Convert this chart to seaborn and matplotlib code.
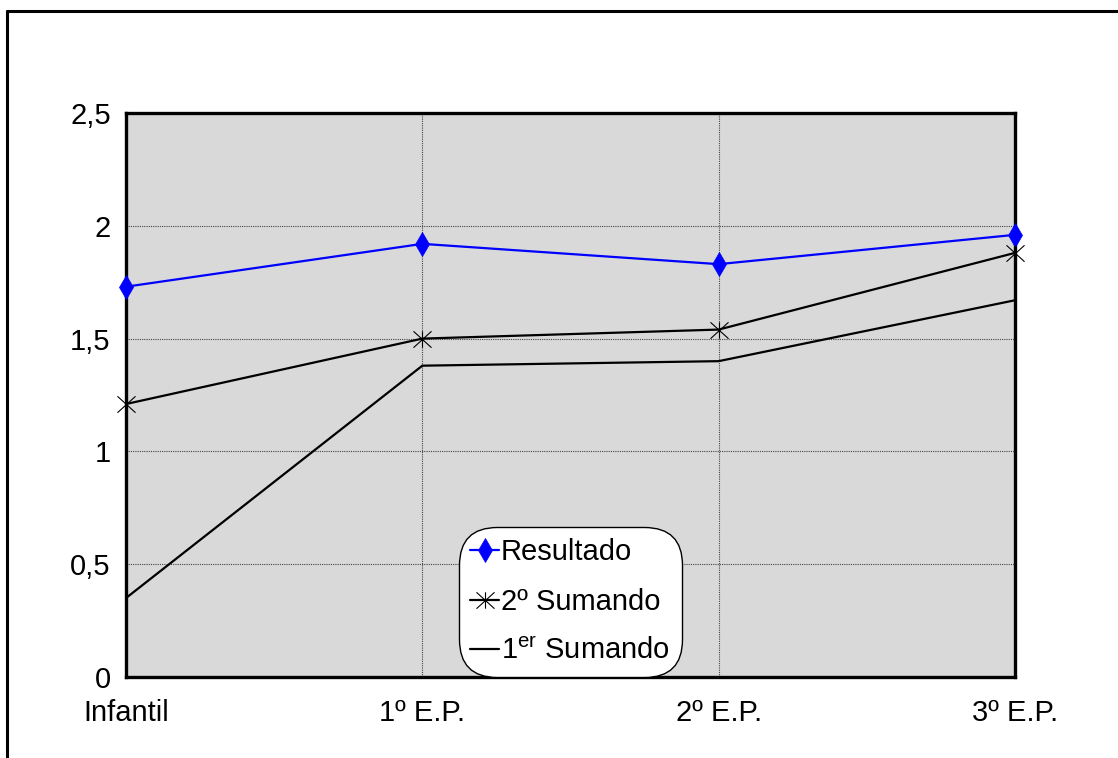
import numpy as np
import pandas as pd
import matplotlib
matplotlib.use("Agg")
import matplotlib.pyplot as plt
from matplotlib.path import Path
from matplotlib.lines import Line2D
import seaborn as sns

# Data
categorias = ["Infantil", "1º E.P.", "2º E.P.", "3º E.P."]
resultado = [1.73, 1.92, 1.83, 1.96]
segundo_sumando = [1.21, 1.50, 1.54, 1.88]
primer_sumando = [0.35, 1.38, 1.40, 1.67]
y_ticks = [0, 0.5, 1, 1.5, 2, 2.5]
y_tick_labels = ["0", "0,5", "1", "1,5", "2", "2,5"]

sns.set_theme(style="white")
plt.rcParams["font.family"] = ["Liberation Sans", "DejaVu Sans"]
plt.rcParams["mathtext.fontset"] = "custom"
plt.rcParams["mathtext.rm"] = "Liberation Sans"
plt.rcParams["mathtext.it"] = "Liberation Sans"

FS = 21

fig = plt.figure(figsize=(11.18, 7.58), dpi=100)
ax = fig.add_axes([126 / 1118, 1 - 677 / 758, (1015 - 126) / 1118, (677 - 113) / 758])
ax.set_facecolor("#d9d9d9")

pos = np.arange(len(categorias))
df = pd.DataFrame({
    "pos": np.tile(pos, 3),
    "valor": resultado + segundo_sumando + primer_sumando,
    "serie": ["Resultado"] * 4 + ["2º Sumando"] * 4 + ["1$^{\\mathrm{er}}$ Sumando"] * 4,
})

# six-armed asterisk: an X with a vertical stroke
asterisco = Path(
    [(-1.1, -1), (1.1, 1), (-1.1, 1), (1.1, -1), (0, -1), (0, 1)],
    [Path.MOVETO, Path.LINETO, Path.MOVETO, Path.LINETO, Path.MOVETO, Path.LINETO],
)

estilos = {
    "Resultado": dict(color="#0000ff", marker="d", markersize=12,
                      markeredgecolor="#0000ff", markerfacecolor="#0000ff",
                      markeredgewidth=0.5),
    "2º Sumando": dict(color="black", marker=asterisco, markersize=13,
                       markeredgewidth=0.8, markeredgecolor="black",
                       markerfacecolor="none"),
    "1$^{\\mathrm{er}}$ Sumando": dict(color="black"),
}

for nombre, kw in estilos.items():
    sub = df[df["serie"] == nombre]
    sns.lineplot(data=sub, x="pos", y="valor", ax=ax, linewidth=1.6,
                 clip_on=False, zorder=5, legend=False, **kw)

lineas = ax.get_lines()
for ln, nombre in zip(lineas, estilos):
    ln.set_label(nombre)
    ln.set_linestyle("-")

ax.set_xlim(0, 3)
ax.set_ylim(0, 2.5)
ax.set_xticks(pos)
ax.set_xticklabels(categorias)
ax.set_yticks(y_ticks)
ax.set_yticklabels(y_tick_labels)
ax.set_xlabel("")
ax.set_ylabel("")
ax.tick_params(axis="both", length=0, labelsize=FS, colors="black")
ax.tick_params(axis="x", pad=16)
ax.tick_params(axis="y", pad=11)

ax.grid(True, color="#444444", linestyle=(0, (1, 1)), linewidth=0.8)
ax.set_axisbelow(True)
for s in ax.spines.values():
    s.set_visible(True)
    s.set_color("black")
    s.set_linewidth(2.4)

leg = ax.legend(
    handles=list(lineas),
    loc="upper left",
    bbox_to_anchor=(463 / 1118, 1 - 531 / 758),
    bbox_transform=fig.transFigure,
    fontsize=FS,
    frameon=True,
    fancybox=True,
    handlelength=1.0,
    handletextpad=0.05,
    labelspacing=0.74,
    borderpad=0.25,
    borderaxespad=0,
)
frame = leg.get_frame()
frame.set_facecolor("white")
frame.set_edgecolor("black")
frame.set_linewidth(1.0)
frame.set_alpha(1)
frame.set_boxstyle("round,pad=0.15,rounding_size=1.3")
leg.set_zorder(10)
for t in leg.get_texts():
    t.set_color("black")

# Outer frame: top and left edges
fig.add_artist(Line2D([7 / 1118, 1.0], [1 - 11 / 758, 1 - 11 / 758],
                      transform=fig.transFigure, color="black", linewidth=2.2))
fig.add_artist(Line2D([7 / 1118, 7 / 1118], [1 - 11 / 758, 0.0],
                      transform=fig.transFigure, color="black", linewidth=2.2))

fig.savefig("out.png", dpi=100)
